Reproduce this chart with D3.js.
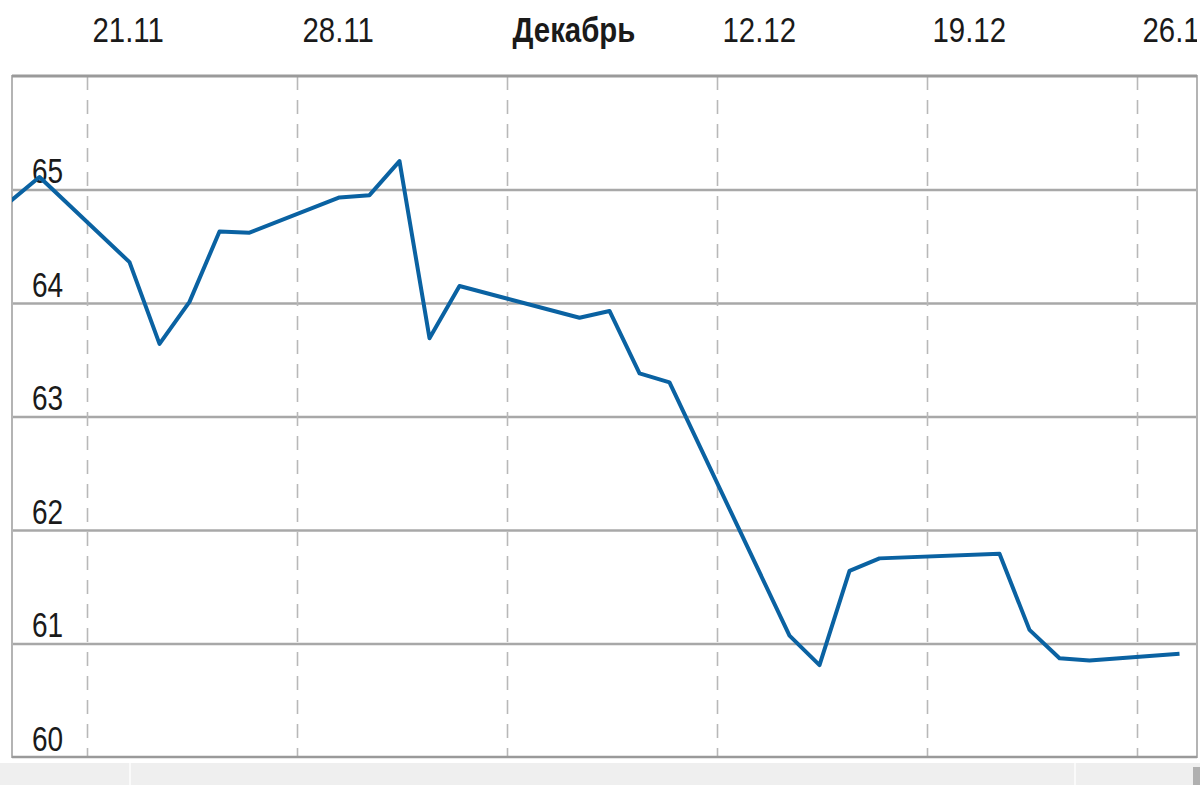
<!DOCTYPE html>
<html>
<head>
<meta charset="utf-8">
<script src="https://cdn.jsdelivr.net/npm/d3@7"></script>
<style>
  body { margin: 0; background: #fff; }
  .tick-label { font-family: "Liberation Sans", Arial, sans-serif; font-size: 35px; fill: #1a1a1a; }
</style>
</head>
<body>
<div class="plot-item"></div>
<script>
// daily values, dd.mm (2016)
var dates = ["18.11","19.11","22.11","23.11","24.11","25.11","26.11","29.11","30.11",
  "01.12","02.12","03.12","07.12","08.12","09.12","10.12","14.12","15.12","16.12","17.12",
  "21.12","22.12","23.12","24.12","27.12"];
var values = [64.89, 65.11, 64.36, 63.64, 64.01, 64.63, 64.62, 64.93, 64.95,
  65.25, 63.69, 64.15, 63.87, 63.93, 63.38, 63.30, 61.07, 60.81, 61.64, 61.75,
  61.79, 61.12, 60.87, 60.85, 60.91];
var xTickDates = ["21.11","28.11","05.12","12.12","19.12","26.12"];
var xTickLabels = ["21.11","28.11","Декабрь","12.12","19.12","26.12"];
var yTicks = [60, 61, 62, 63, 64, 65];

var w = 1200;
var h = 785;
var margin = { top: 76, bottom: 28, left: 12, right: 3 };
var width = w - margin.left - margin.right;
var height = h - margin.top - margin.bottom;

function parseDay(s, hour) {
  var p = s.split(".");
  return new Date(2016, +p[1] - 1, +p[0], hour || 0);
}

var svg = d3.select(".plot-item").append("svg")
  .attr("width", w)
  .attr("height", h);

// scroller strip under the chart
svg.append("rect")
  .attr("x", 0).attr("y", 763).attr("width", w).attr("height", 22)
  .attr("fill", "#efefef");
[130, 1075].forEach(function(sx) {
  svg.append("line")
    .attr("x1", sx).attr("x2", sx).attr("y1", 763).attr("y2", 785)
    .attr("stroke", "#fafafa").attr("stroke-width", 2);
});
svg.append("rect")
  .attr("x", 1193).attr("y", 767).attr("width", 7).attr("height", 18)
  .attr("fill", "#b0b0b0");

var chart = svg.append("g")
  .attr("transform", "translate(" + margin.left + "," + margin.top + ")");

svg.append("defs").append("clipPath")
  .attr("id", "plot-clip")
  .append("rect")
  .attr("x", 0).attr("y", -margin.top).attr("width", width).attr("height", height + margin.top);

var x = d3.scaleTime()
  .domain([new Date(2016, 10, 18, 12), new Date(2016, 11, 28, 0)])
  .range([0, width]);
var y = d3.scaleLinear()
  .domain([60, 66])
  .range([height, 0]);

var tickDates = xTickDates.map(function(d) { return parseDay(d); });

// horizontal gridlines
var yGridlines = d3.axisLeft(y)
  .tickValues(yTicks.slice(1))
  .tickSize(-width)
  .tickFormat("");
chart.append("g")
  .classed("gridline y", true)
  .call(yGridlines)
  .call(function(g) {
    g.select(".domain").remove();
    g.selectAll("line").attr("stroke", "#a8a8a8").attr("stroke-width", 2.5);
  });

// vertical dashed gridlines
var xGridlines = d3.axisTop(x)
  .tickValues(tickDates)
  .tickSize(-height)
  .tickFormat("");
chart.append("g")
  .classed("gridline x", true)
  .call(xGridlines)
  .call(function(g) {
    g.select(".domain").remove();
    g.selectAll("line")
      .attr("stroke", "#b8b8b8")
      .attr("stroke-width", 1.6)
      .attr("stroke-dasharray", "14,10");
  });

// frame
chart.append("rect")
  .attr("x", 0).attr("y", 0).attr("width", width).attr("height", height)
  .attr("fill", "none").attr("stroke", "#b4b4b4").attr("stroke-width", 2);
chart.append("line")
  .attr("x1", 0).attr("x2", width).attr("y1", 0).attr("y2", 0)
  .attr("stroke", "#9a9a9a").attr("stroke-width", 3);
chart.append("line")
  .attr("x1", 0).attr("x2", width).attr("y1", height).attr("y2", height)
  .attr("stroke", "#9a9a9a").attr("stroke-width", 2.5);

// y labels, sitting above their gridline inside the plot
var yAxis = d3.axisLeft(y)
  .tickValues(yTicks)
  .tickSize(0)
  .tickFormat(d3.format("d"));
chart.append("g")
  .classed("axis y", true)
  .call(yAxis)
  .call(function(g) {
    g.select(".domain").remove();
    g.selectAll("text")
      .attr("class", "tick-label")
      .attr("x", null).attr("dy", null)
      .attr("text-anchor", "start")
      .attr("transform", "translate(20,-7) scale(0.8,1)");
  });

// x labels along the top
var xAxis = d3.axisTop(x)
  .tickValues(tickDates)
  .tickSize(0)
  .tickFormat(function(d, i) { return xTickLabels[i]; });
chart.append("g")
  .classed("axis x", true)
  .attr("clip-path", "url(#plot-clip)")
  .call(xAxis)
  .call(function(g) {
    g.select(".domain").remove();
    g.selectAll("text")
      .attr("class", "tick-label")
      .attr("y", null).attr("dy", null)
      .attr("text-anchor", "start")
      .attr("font-weight", function(d, i) { return isNaN(parseFloat(xTickLabels[i])) ? "bold" : null; })
      .attr("transform", "translate(5,-34) scale(0.84,1)");
  });

// series
var data = dates.map(function(d, i) {
  return { date: parseDay(d, 10), value: values[i] };
});
var line = d3.line()
  .x(function(d) { return x(d.date); })
  .y(function(d) { return y(d.value); });

chart.append("path")
  .datum(data)
  .attr("clip-path", "url(#plot-clip)")
  .attr("d", line)
  .attr("fill", "none")
  .attr("stroke", "#0a62a2")
  .attr("stroke-width", 4)
  .attr("stroke-linejoin", "round");
</script>
</body>
</html>
